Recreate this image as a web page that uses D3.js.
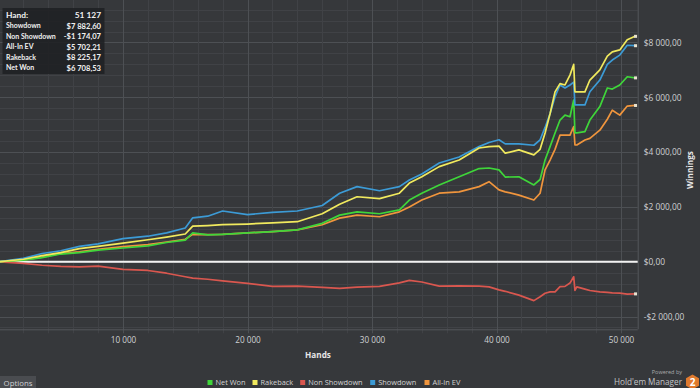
<!DOCTYPE html>
<html><head><meta charset="utf-8">
<script src="https://cdn.jsdelivr.net/npm/d3@7/dist/d3.min.js"></script>
<style>
html,body{margin:0;padding:0;background:#36383b;overflow:hidden;}
svg{display:block;}
</style></head>
<body>
<svg id="chart" width="700" height="388"></svg>
<script>
// ---- data ----
const hands = [0, 2000, 3500, 5000, 6500, 8000, 10000, 12000, 13500, 15000, 15600, 16800, 18000, 20000, 22000, 24000, 26000, 27400, 28800, 30600, 32200, 33000, 34000, 35400, 37000, 38600, 39400, 40200, 40700, 41800, 43000, 43500, 43900, 44300, 44700, 45100, 45500, 45900, 46200, 46300, 46450, 47100, 47500, 48300, 48900, 49300, 49900, 50500, 51127];
const showdown = [0, 120, 300, 400, 560, 650, 840, 930, 1050, 1230, 1600, 1660, 1850, 1720, 1800, 1850, 2050, 2500, 2740, 2590, 2740, 2980, 3200, 3600, 3820, 4200, 4350, 4450, 4300, 4300, 4250, 4450, 4900, 5400, 6020, 6450, 6340, 6450, 6550, 5720, 5720, 5720, 6200, 6630, 7200, 7360, 7540, 7900, 7882.60];
const rakeback = [0, 90, 220, 330, 480, 560, 680, 800, 900, 1010, 1300, 1320, 1350, 1375, 1420, 1460, 1750, 2100, 2370, 2300, 2500, 2870, 3100, 3470, 3710, 4150, 4200, 4220, 3960, 4080, 3900, 4100, 4700, 5400, 6200, 6500, 6450, 6810, 7200, 6200, 6200, 6200, 6630, 7000, 7500, 7660, 7730, 8100, 8225.17];
const netWon = [0, 60, 150, 280, 330, 420, 500, 580, 700, 790, 1050, 980, 1000, 1050, 1100, 1160, 1400, 1700, 1820, 1750, 1890, 2250, 2500, 2800, 3100, 3400, 3420, 3350, 3090, 3100, 2800, 3000, 3710, 4200, 4700, 5170, 5350, 5290, 5900, 4700, 4700, 4750, 5170, 5660, 6340, 6300, 6450, 6750, 6708.53];
const allInEV = [0, 70, 170, 300, 360, 450, 550, 620, 720, 820, 1000, 990, 1000, 1050, 1100, 1160, 1350, 1590, 1700, 1640, 1820, 2000, 2250, 2500, 2550, 2740, 2920, 2620, 2550, 2430, 2250, 2500, 3350, 3710, 4100, 4620, 4620, 4620, 4930, 4260, 4260, 4440, 4500, 4800, 5200, 5530, 5350, 5680, 5702.21];
const nonShowdown = [0, -60, -130, -170, -190, -160, -280, -320, -420, -550, -600, -640, -700, -790, -900, -890, -940, -970, -930, -900, -770, -680, -740, -890, -880, -890, -920, -1030, -1080, -1220, -1420, -1280, -1150, -1100, -1100, -910, -900, -780, -550, -1050, -920, -1000, -1050, -1100, -1120, -1140, -1150, -1180, -1174.07];

const xTicks = [10000, 20000, 30000, 40000, 50000];
const yTicks = [-2000, 0, 2000, 4000, 6000, 8000];
const yTickLabels = ["-$2 000,00", "$0,00", "$2 000,00", "$4 000,00", "$6 000,00", "$8 000,00"];
const xTickLabels = ["10 000", "20 000", "30 000", "40 000", "50 000"];

const legendNames = ["Net Won", "Rakeback", "Non Showdown", "Showdown", "All-In EV"];
const legendColors = ["#3fd63a", "#f1ea5e", "#d9574f", "#3c9bd6", "#f0953d"];

const tipLabels = ["Hand:", "Showdown", "Non Showdown", "All-In EV", "Rakeback", "Net Won"];
const tipValues = ["51 127", "$7 882,60", "-$1 174,07", "$5 702,21", "$8 225,17", "$6 708,53"];

// draw order: red, orange, green, blue, yellow
const series = [
  {name: "Non Showdown", values: nonShowdown, color: legendColors[2]},
  {name: "All-In EV", values: allInEV, color: legendColors[4]},
  {name: "Net Won", values: netWon, color: legendColors[0]},
  {name: "Showdown", values: showdown, color: legendColors[3]},
  {name: "Rakeback", values: rakeback, color: legendColors[1]}
];

// ---- layout ----
const svg = d3.select("#chart");
const plotL = 0, plotR = 637.7, plotT = 0, plotB = 329.3;
const x = d3.scaleLinear().domain([0, 51340]).range([-1.5, plotR]);
const y = d3.scaleLinear().domain([-2467, 9551]).range([plotB, plotT]);

svg.append("rect").attr("width", 700).attr("height", 388).attr("fill", "#36383b");

const grid = svg.append("g");
d3.range(-2400, 9551, 400).forEach(v => {
  const major = v % 2000 === 0;
  grid.append("line").attr("x1", plotL).attr("x2", plotR)
    .attr("y1", Math.round(y(v)) + 0.5).attr("y2", Math.round(y(v)) + 0.5)
    .attr("stroke", major ? "#4d5054" : "#404246").attr("stroke-width", 1);
});
d3.range(2000, 51340, 2000).forEach(h => {
  const major = h % 10000 === 0;
  grid.append("line").attr("y1", plotT).attr("y2", plotB + 4)
    .attr("x1", Math.round(x(h)) + 0.5).attr("x2", Math.round(x(h)) + 0.5)
    .attr("stroke", major ? "#4d5054" : "#404246").attr("stroke-width", 1);
});
svg.append("line").attr("x1", plotL).attr("x2", plotR).attr("y1", plotB + 0.5).attr("y2", plotB + 0.5)
  .attr("stroke", "#55585c");
svg.append("line").attr("x1", plotR + 0.5).attr("x2", plotR + 0.5).attr("y1", plotT).attr("y2", plotB)
  .attr("stroke", "#55585c");

// zero line
svg.append("line").attr("x1", plotL).attr("x2", plotR).attr("y1", y(0)).attr("y2", y(0))
  .attr("stroke", "#f2f2f2").attr("stroke-width", 2);

// axes
const xAxis = d3.axisBottom(x).tickValues(xTicks).tickSize(0)
  .tickFormat((d, i) => xTickLabels[i]);
const gx = svg.append("g").attr("transform", `translate(0,${plotB + 5})`).call(xAxis);
gx.select(".domain").remove();
gx.selectAll("text").attr("fill", "#cfd0d2").attr("font-family", "'Open Sans', sans-serif")
  .attr("font-size", "8.2px").attr("dy", "0.71em");

const yAxis = d3.axisRight(y).tickValues(yTicks).tickSize(0)
  .tickFormat((d, i) => yTickLabels[i]);
const gy = svg.append("g").attr("transform", `translate(${plotR + 6},0)`).call(yAxis);
gy.select(".domain").remove();
gy.selectAll("text").attr("fill", "#cfd0d2").attr("font-family", "'Open Sans', sans-serif")
  .attr("font-size", "8.4px").attr("x", 0);

svg.append("text").attr("x", 318).attr("y", 357.5).attr("text-anchor", "middle")
  .attr("fill", "#e6e6e6").attr("font-family", "'Open Sans', sans-serif").attr("font-weight", "bold")
  .attr("font-size", "8.2px").text("Hands");
svg.append("text").attr("transform", "translate(693,170) rotate(-90)").attr("text-anchor", "middle")
  .attr("fill", "#e6e6e6").attr("font-family", "'Open Sans', sans-serif").attr("font-weight", "bold")
  .attr("font-size", "8.2px").text("Winnings");

// lines
const line = d3.line().x((d, i) => x(hands[i])).y(d => y(d)).curve(d3.curveLinear);
series.forEach(s => {
  svg.append("path").datum(s.values).attr("d", line)
    .attr("fill", "none").attr("stroke", s.color).attr("stroke-width", 1.7)
    .attr("stroke-linejoin", "round");
});
series.forEach(s => {
  const v = s.values[s.values.length - 1];
  svg.append("rect").attr("x", x(hands[hands.length - 1]) - 1).attr("y", y(v) - 1.5)
    .attr("width", 3).attr("height", 3).attr("fill", "#e8e2d0");
});

// tooltip box
const tip = svg.append("g");
tip.append("rect").attr("x", 2.5).attr("y", 8).attr("width", 102).attr("height", 66)
  .attr("fill", "#1f2023").attr("fill-opacity", 0.88);
const rowY = [15, 26, 36.5, 47, 57.5, 68];
tipLabels.forEach((t, i) => {
  tip.append("text").attr("x", 6).attr("y", rowY[i]).attr("dy", "0.35em")
    .attr("fill", "#f0f0f0").attr("font-family", "Lato, sans-serif").attr("font-weight", "bold")
    .attr("font-size", i === 0 ? "8.4px" : "7px").text(t);
  tip.append("text").attr("x", 101).attr("y", rowY[i]).attr("dy", "0.35em").attr("text-anchor", "end")
    .attr("fill", "#f0f0f0").attr("font-family", "Lato, sans-serif").attr("font-weight", "bold")
    .attr("font-size", i === 0 ? "8.4px" : "7.6px").text(tipValues[i]);
});

// legend
const legendX = [210, 255, 302.7, 372.7, 427];
const lg = svg.append("g");
legendNames.forEach((n, i) => {
  lg.append("rect").attr("x", legendX[i] - 2.5).attr("y", 380).attr("width", 5).attr("height", 5)
    .attr("fill", legendColors[i]);
  lg.append("text").attr("x", legendX[i] + 5.5).attr("y", 382.8).attr("dy", "0.35em")
    .attr("fill", "#d4d4d4").attr("font-family", "'Open Sans', sans-serif").attr("font-size", "7.4px").text(n);
});

// options button
svg.append("rect").attr("x", 0).attr("y", 376).attr("width", 36).attr("height", 12).attr("fill", "#4a4c50");
svg.append("text").attr("x", 18).attr("y", 384).attr("dy", "0.3em").attr("text-anchor", "middle")
  .attr("fill", "#cfd0d2").attr("font-family", "'Open Sans', sans-serif").attr("font-size", "7.8px").text("Options");

// powered by logo
svg.append("text").attr("x", 682).attr("y", 373.5).attr("text-anchor", "end").attr("fill", "#a9aaac")
  .attr("font-family", "'Open Sans', sans-serif").attr("font-size", "5.5px").text("Powered by");
svg.append("text").attr("x", 682).attr("y", 385).attr("text-anchor", "end").attr("fill", "#c4c5c7")
  .attr("font-family", "'Open Sans', sans-serif").attr("font-size", "8.2px").text("Hold'em Manager");
const hx = 692.5, hy = 382, hr = 7.5;
const hex = d3.range(6).map(k => { const a = Math.PI / 3 * k + Math.PI / 6; return [hx + hr * Math.cos(a), hy + hr * Math.sin(a)]; });
svg.append("path").attr("d", "M" + hex.join("L") + "Z").attr("fill", "#e07a2e");
svg.append("text").attr("x", hx).attr("y", hy + 0.5).attr("dy", "0.35em").attr("text-anchor", "middle")
  .attr("fill", "#ffffff").attr("font-family", "'Open Sans', sans-serif").attr("font-weight", "bold")
  .attr("font-size", "10px").text("2");
</script>
</body></html>
